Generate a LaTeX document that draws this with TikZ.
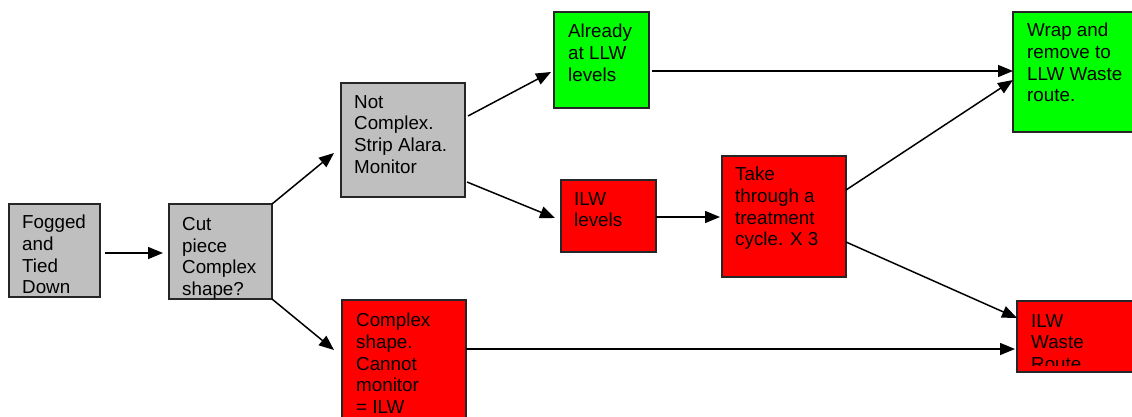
\documentclass[tikz,border=0pt]{standalone}
\usepackage{fontspec}
\setmainfont{Liberation Sans}
\usetikzlibrary{arrows.meta}
\begin{document}
\begin{tikzpicture}[x=1pt,y=-1pt,
  box/.style={draw=black!85,line width=1.3pt,rectangle,inner sep=0pt,outer sep=0pt,anchor=north west},
  grey/.style={box,fill=black!25},
  green/.style={box,fill={rgb,255:red,0;green,255;blue,0}},
  red/.style={box,fill={rgb,255:red,255;green,0;blue,0}},
  txt/.style={anchor=north west,inner sep=0pt,align=left,font=\fontsize{18.8pt}{21.7pt}\selectfont},
  conn/.style={line width=1.5pt,-{Triangle[length=15pt,width=12pt]}}]
\clip (0,0) rectangle (1132,416);
\fill[white] (0,0) rectangle (1132,416);
% boxes
\node[grey,minimum width=91pt,minimum height=93pt] (fog) at (9,204) {};
\node[grey,minimum width=103pt,minimum height=95pt] (cut) at (169,204) {};
\node[grey,minimum width=124pt,minimum height=114pt] (nc) at (341,83) {};
\node[green,minimum width=95pt,minimum height=96pt] (al) at (554,12) {};
\node[red,minimum width=95pt,minimum height=72pt] (ilw) at (561,180) {};
\node[red,minimum width=124pt,minimum height=121pt] (take) at (722,156) {};
\node[green,minimum width=140pt,minimum height=120pt] (wrap) at (1013,12) {};
\node[red,minimum width=124pt,minimum height=140pt] (cx) at (342,300) {};
\node[red,minimum width=140pt,minimum height=71pt] (iwr) at (1017,301) {};
% texts
\node[txt] (tfog) at ([shift={(13,11)}]fog.north west) {Fogged\\and\\Tied\\Down};
\node[txt] (tcut) at ([shift={(13,13)}]cut.north west) {Cut\\piece\\Complex\\shape?};
\node[txt] (tnc) at ([shift={(13,12)}]nc.north west) {Not\\Complex.\\Strip Alara.\\Monitor};
\node[txt] (tal) at ([shift={(14,12)}]al.north west) {Already\\at LLW\\levels};
\node[txt] (tilw) at ([shift={(13,12)}]ilw.north west) {ILW\\levels};
\node[txt] (ttake) at ([shift={(13,11)}]take.north west) {Take\\through a\\treatment\\cycle. X 3};
\node[txt] (twrap) at ([shift={(14,11)}]wrap.north west) {Wrap and\\remove to\\LLW Waste\\route.};
\node[txt] (tcx) at ([shift={(14,13)}]cx.north west) {Complex\\shape.\\Cannot\\monitor\\= ILW};
\begin{scope}
\clip (1018,302) rectangle (1132,365);
\node[txt] (tiwr) at ([shift={(14,13)}]iwr.north west) {ILW\\Waste\\Route};
\end{scope}
% connectors
\draw[conn] ([shift={(5,2.5)}]fog.east) -- ([shift={(-6,1.5)}]cut.west);
\draw[conn] (cut.north east) -- ([shift={(-7,13)}]nc.west);
\draw[conn] (cut.south east) -- ([shift={(-8,50)}]cx.north west);
\draw[conn] ([shift={(3,33)}]nc.north east) -- ([shift={(-3,12)}]al.west);
\draw[conn] ([shift={(2,-15)}]nc.south east) -- ([shift={(-6,2)}]ilw.west);
\draw[conn] ([shift={(3,11)}]al.east) -- ([shift={(0,-1)}]wrap.west);
\draw[conn] ([shift={(0,1)}]ilw.east) -- ([shift={(-2,0.5)}]take.west);
\draw[conn] ([shift={(0,34)}]take.north east) -- ([shift={(0,8)}]wrap.west);
\draw[conn] ([shift={(0,-35)}]take.south east) -- ([shift={(0,17)}]iwr.north west);
\draw[conn] ([shift={(0,49)}]cx.north east) -- ([shift={(-2,12.5)}]iwr.west);
\end{tikzpicture}
\end{document}
